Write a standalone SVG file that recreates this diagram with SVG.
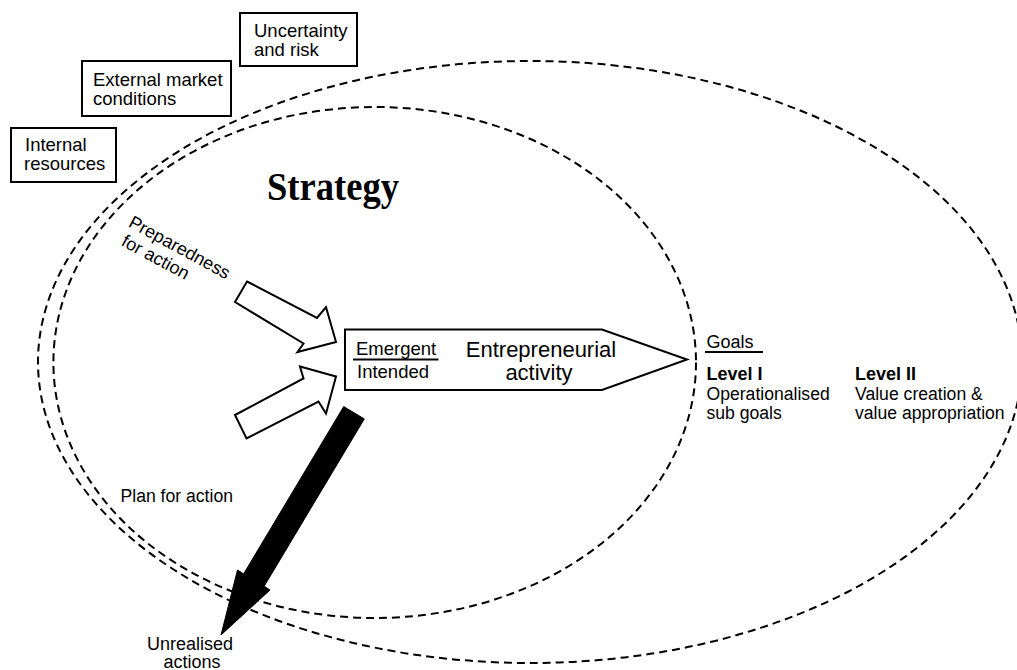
<svg xmlns="http://www.w3.org/2000/svg" width="1017" height="670" viewBox="0 0 1017 670">
  <style>
    .bg { fill: #ffffff; }
    .zone { fill: none; stroke: #000; stroke-width: 2; stroke-dasharray: 8 5; }
    .box { fill: #fff; stroke: #000; stroke-width: 2; }
    .hollow { fill: #fff; stroke: #000; stroke-width: 2; stroke-linejoin: miter; }
    .solid { fill: #000; stroke: #000; stroke-width: 1; }
    .rule { stroke: #000; stroke-width: 1.8; }
    text { font-family: "Liberation Sans", Arial, sans-serif; fill: #000; }
    .t185 { font-size: 18.5px; }
    .t18 { font-size: 18px; }
    .t176 { font-size: 17.6px; }
    .t22 { font-size: 22px; }
    .bold { font-weight: bold; }
    .title { font-family: "Liberation Serif", "Times New Roman", serif; font-weight: bold; font-size: 41px; }
  </style>

  <rect class="bg" x="0" y="0" width="1017" height="670"/>

  <!-- dashed regions: outer (goals) and inner (strategy) -->
  <g id="regions">
    <ellipse id="outer-zone" class="zone" cx="530" cy="362" rx="492" ry="301"/>
    <ellipse id="strategy-zone" class="zone" cx="374.7" cy="362.5" rx="321.3" ry="255.5"/>
  </g>

  <!-- influence boxes -->
  <g id="uncertainty">
    <rect class="box" x="240" y="13" width="117" height="53"/>
    <text class="t185" x="254" y="36.5">Uncertainty</text>
    <text class="t185" x="254" y="56">and risk</text>
  </g>
  <g id="external-market">
    <rect class="box" x="82" y="61" width="149" height="55"/>
    <text class="t185" x="93" y="86">External market</text>
    <text class="t185" x="93" y="105">conditions</text>
  </g>
  <g id="internal-resources">
    <rect class="box" x="11" y="128" width="105" height="54"/>
    <text class="t185" x="25" y="150.5">Internal</text>
    <text class="t185" x="24" y="170">resources</text>
  </g>

  <g id="strategy-label">
    <text class="title" x="267" y="200" textLength="132" lengthAdjust="spacingAndGlyphs">Strategy</text>
  </g>

  <g id="preparedness">
    <text class="t18" transform="translate(127.5,226) rotate(28.5)">
      <tspan x="0" y="0">Preparedness</tspan>
      <tspan x="2.5" y="20">for action</tspan>
    </text>
  </g>

  <g id="plan">
    <text class="t176" x="120.5" y="501.5">Plan for action</text>
  </g>

  <!-- central activity -->
  <g id="entrepreneurial-activity">
    <polygon class="hollow" points="345,329.5 602,329.5 687,359.5 602,390 345,390"/>
    <text class="t185" x="356" y="355">Emergent</text>
    <line class="rule" x1="353" y1="359.5" x2="438.5" y2="359.5"/>
    <text class="t185" x="357" y="378">Intended</text>
    <text class="t22" x="541" y="357" text-anchor="middle">Entrepreneurial</text>
    <text class="t22" x="539" y="380" text-anchor="middle">activity</text>
  </g>

  <g id="goals">
    <text class="t18" x="706.5" y="348">Goals</text>
    <line class="rule" x1="705" y1="352" x2="763" y2="352"/>
  </g>
  <g id="level-1">
    <text class="t18 bold" x="706.5" y="380">Level I</text>
    <text class="t176" x="706.5" y="400">Operationalised</text>
    <text class="t176" x="706.5" y="418.5">sub goals</text>
  </g>
  <g id="level-2">
    <text class="t18 bold" x="855" y="380">Level II</text>
    <text class="t176" x="855" y="400">Value creation &amp;</text>
    <text class="t176" x="855" y="418.5">value appropriation</text>
  </g>

  <g id="unrealised">
    <text class="t18" x="190" y="650" text-anchor="middle">Unrealised</text>
    <text class="t18" x="192" y="668" text-anchor="middle">actions</text>
  </g>

  <!-- arrows -->
  <g id="connectors">
    <polygon class="hollow" points="247,281.5 317,318 326,307 336,342 297.5,352 303.5,343.5 235,302"/>
    <polygon class="hollow" points="235,415 303.5,378.5 300,366.5 336,376.5 326,413.5 318.5,401.5 246.5,438.5"/>
    <polygon class="solid" points="343.7,406.6 364.3,418.9 264.2,586.2 270,590 221,635 237.5,570 243.6,573.9"/>
  </g>
</svg>
